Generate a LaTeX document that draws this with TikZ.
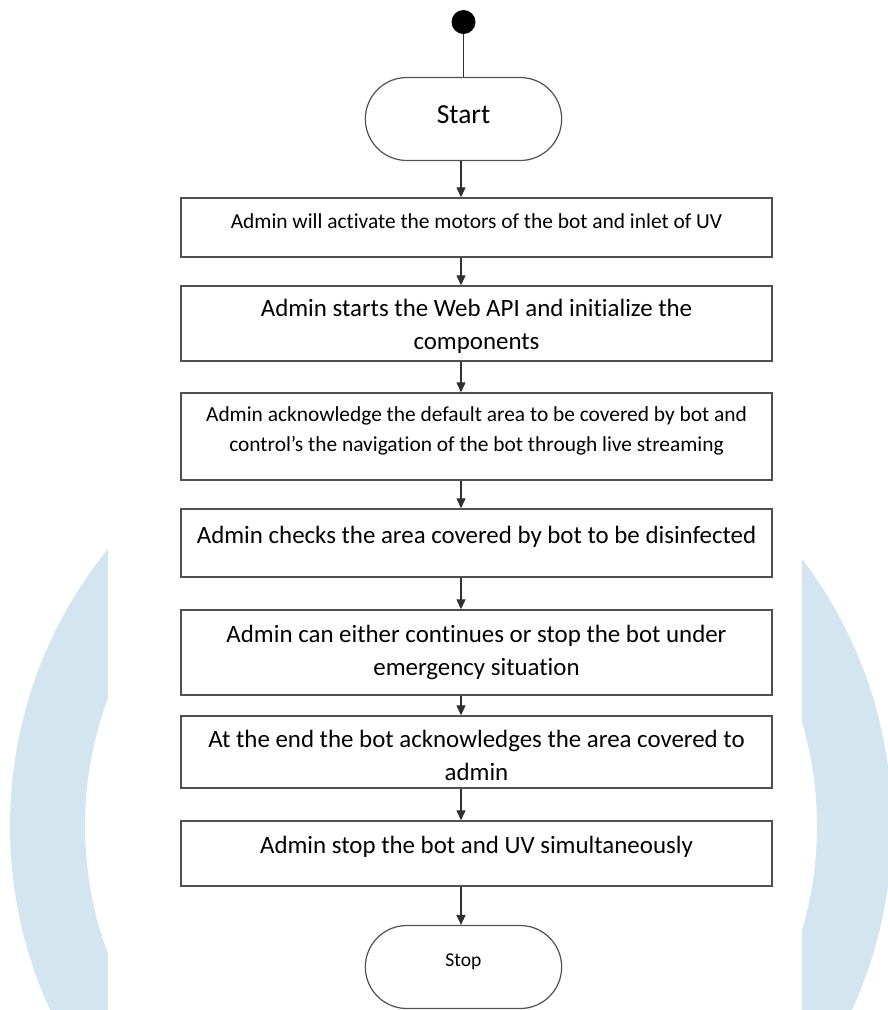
\documentclass[tikz,border=0pt]{standalone}
\usepackage{fontspec}
\setmainfont{Carlito}[Ligatures=NoCommon]
\usepackage{tikz}
\usetikzlibrary{arrows.meta, shapes.misc, positioning}
\definecolor{ringblue}{HTML}{D3E5EF}
\definecolor{flowline}{HTML}{303030}
\definecolor{flowedge}{HTML}{505050}
\newcommand{\steptext}[3]{\parbox[c][#1][t]{591pt}{\centering\rule{0pt}{#2}#3}}

\begin{document}
\begin{tikzpicture}[x=1pt, y=-1pt,
    stepbox/.style={draw=flowedge, line width=1.4pt, inner sep=0pt, font=\fontsize{24.9}{33}\selectfont},
    termbox/.style={draw=flowedge, line width=1.2pt, rounded rectangle, minimum width=203pt, minimum height=83pt},
    flow/.style={-{Triangle[width=9pt,length=10pt]}, line width=1.2pt, flowline}]
    \useasboundingbox (0,0) rectangle (887,1010);

    % Watermark ring
    \fill[ringblue, even odd rule] (451,826) circle[radius=441] (451,826) circle[radius=366];
    \fill[white] (108,0) rectangle (802,1010);

    % Start and stop
    \node[circle, fill=black, minimum size=24pt, inner sep=0pt] (dot) at (463.5,22) {};
    \node[termbox, font=\fontsize{27.5}{33}\selectfont, text depth=9pt] (start) at (463.5,119) {Start};
    \node[termbox, font=\fontsize{19.6}{24}\selectfont, text depth=13pt] (stop) at (463.5,967) {Stop};

    % Steps
    \node[stepbox, font=\fontsize{21.4}{28}\selectfont] (activate) at (476.5,227.5)
        {\steptext{59pt}{30pt}{Admin will activate the motors of the bot and inlet of UV}};
    \node[stepbox] (webapi) at (476.5,323.5)
        {\steptext{75pt}{30.5pt}{Admin starts the Web API and initialize the\\components}};
    \node[stepbox, font=\fontsize{21.4}{30}\selectfont] (navigate) at (476.5,436.5)
        {\steptext{87pt}{28.5pt}{Admin acknowledge the default area to be covered by bot and\\control’s the navigation of the bot through live streaming}};
    \node[stepbox] (checks) at (476.5,543)
        {\steptext{68pt}{34.5pt}{Admin checks the area covered by bot to be disinfected}};
    \node[stepbox] (either) at (476.5,652.5)
        {\steptext{85pt}{32.5pt}{Admin can either continues or stop the bot under\\emergency situation}};
    \node[stepbox] (report) at (476.5,752)
        {\steptext{72pt}{31.5pt}{At the end the bot acknowledges the area covered to\\admin}};
    \node[stepbox] (halt) at (476.5,853.5)
        {\steptext{65pt}{32.5pt}{Admin stop the bot and UV simultaneously}};

    % Arrows
    \coordinate (axis) at (461,0);
    \draw[flowline, line width=1.2pt] (dot.south) -- (start.north);
    \draw[flow] (start.south -| axis) -- (activate.north -| axis);
    \foreach \a/\b in {activate/webapi, webapi/navigate, navigate/checks, checks/either, either/report, report/halt, halt/stop}
        \draw[flow] (\a.south -| axis) -- (\b.north -| axis);
\end{tikzpicture}
\end{document}
